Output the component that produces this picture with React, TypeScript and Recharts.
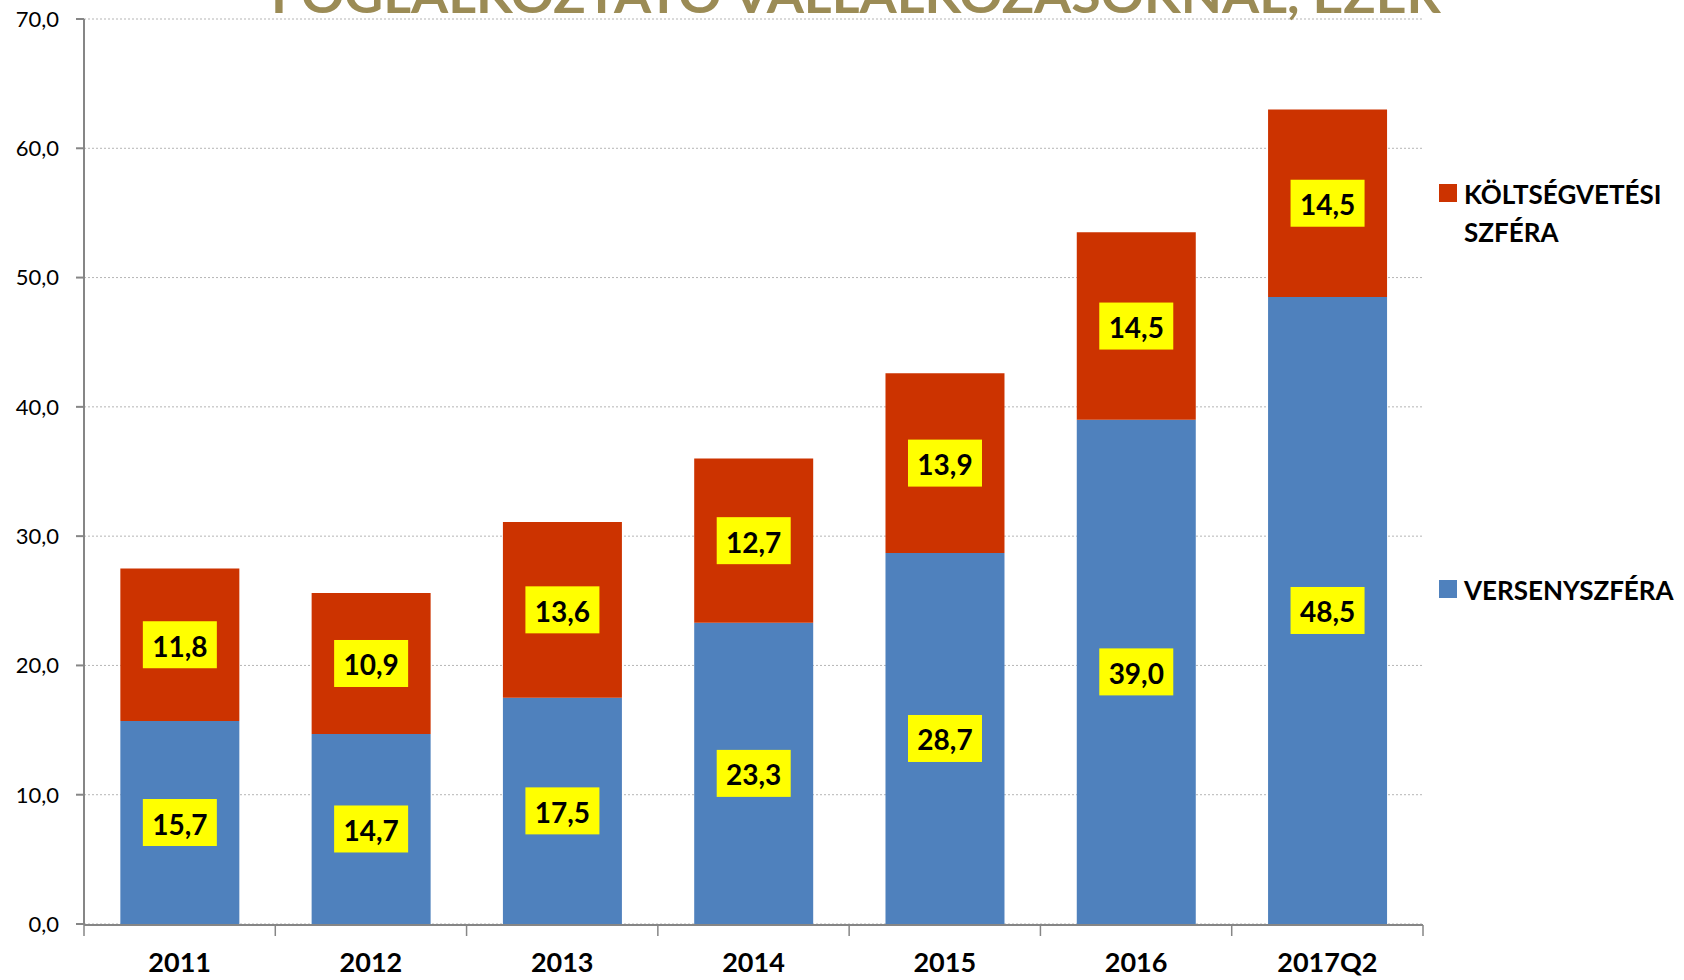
import { BarChart, Bar, XAxis, YAxis, CartesianGrid, LabelList } from "recharts";

const categories = ["2011", "2012", "2013", "2014", "2015", "2016", "2017Q2"];
const versenyszfera = [15.7, 14.7, 17.5, 23.3, 28.7, 39.0, 48.5];
const koltsegvetesi = [11.8, 10.9, 13.6, 12.7, 13.9, 14.5, 14.5];
const yTicks = [0, 10, 20, 30, 40, 50, 60, 70];
const boundaryTicks = [0, 1, 2, 3, 4, 5, 6, 7];
const title = "FOGLALKOZTATÓ VÁLLALKOZÁSOKNÁL, EZER";

const BLUE = "#4F81BD";
const RED = "#CC3300";
const AXIS = "#868686";

const data = categories.map((cat, i) => ({
  cat,
  pos: i + 0.5,
  verseny: versenyszfera[i],
  koltseg: koltsegvetesi[i],
}));

const fmt = (v: number) => Number(v).toFixed(1).replace(".", ",");

// yellow boxed value in the middle of each segment
const BoxLabel = (props: any) => {
  const x = Number(props.x);
  const y = Number(props.y);
  const w = Number(props.width);
  const h = Number(props.height);
  const cx = x + w / 2;
  const cy = y + h / 2;
  return (
    <g>
      <rect x={cx - 37} y={cy - 23.5} width={74} height={47} fill="#FFFF00" />
      <text
        x={cx}
        y={cy + 1}
        textAnchor="middle"
        dominantBaseline="central"
        fontSize={28}
        fontWeight={700}
        fill="#000"
      >
        {fmt(props.value)}
      </text>
    </g>
  );
};

export default function App() {
  return (
    <div
      style={{
        position: "absolute",
        left: 0,
        top: 0,
        width: 1684,
        height: 980,
        background: "#fff",
        fontFamily: "Lato, 'Open Sans', sans-serif",
        overflow: "hidden",
      }}
    >
      <BarChart
        width={1684}
        height={980}
        data={data}
        margin={{ top: 19, right: 261, left: 0, bottom: 54 }}
        barCategoryGap="19%"
      >
        <CartesianGrid vertical={false} stroke="#B5B5B5" strokeDasharray="2 2" />
        {/* category labels; both bottom axes are 1px tall so they sit on the plot edge */}
        <XAxis
          dataKey="cat"
          height={1}
          axisLine={false}
          tickLine={false}
          tickSize={0}
          tickMargin={29}
          tick={{ fontSize: 27, fontWeight: 700, fill: "#000" }}
        />
        {/* axis line with tick marks between categories */}
        <XAxis
          xAxisId="edge"
          type="number"
          dataKey="pos"
          domain={[0, 7]}
          ticks={boundaryTicks}
          height={1}
          tickSize={11}
          axisLine={{ stroke: AXIS, strokeWidth: 2 }}
          tickLine={{ stroke: AXIS, strokeWidth: 1.5 }}
          tick={() => <g />}
        />
        <YAxis
          domain={[0, 70]}
          ticks={yTicks}
          tickFormatter={fmt}
          width={84}
          tickSize={8}
          tickMargin={17}
          axisLine={{ stroke: AXIS, strokeWidth: 2 }}
          tickLine={{ stroke: AXIS, strokeWidth: 2 }}
          tick={{ fontSize: 22, fill: "#000" }}
        />
        <Bar dataKey="verseny" stackId="a" fill={BLUE} isAnimationActive={false}>
          <LabelList dataKey="verseny" content={BoxLabel} />
        </Bar>
        <Bar dataKey="koltseg" stackId="a" fill={RED} isAnimationActive={false}>
          <LabelList dataKey="koltseg" content={BoxLabel} />
        </Bar>
      </BarChart>
      <svg
        width={1684}
        height={980}
        style={{ position: "absolute", left: 0, top: 0, pointerEvents: "none" }}
      >
        <text
          x={856}
          y={13}
          textAnchor="middle"
          fontSize={50}
          fontWeight={700}
          fill="#9B8B55"
          textLength={1170}
          lengthAdjust="spacingAndGlyphs"
        >
          {title}
        </text>
        <rect x={1439} y={184} width={18} height={18} fill={RED} />
        <text x={1464} y={194} dominantBaseline="central" fontSize={26} fontWeight={700} fill="#000">
          KÖLTSÉGVETÉSI
        </text>
        <text x={1464} y={232} dominantBaseline="central" fontSize={26} fontWeight={700} fill="#000">
          SZFÉRA
        </text>
        <rect x={1439} y={580} width={18} height={18} fill={BLUE} />
        <text x={1464} y={590} dominantBaseline="central" fontSize={26} fontWeight={700} fill="#000">
          VERSENYSZFÉRA
        </text>
      </svg>
    </div>
  );
}
